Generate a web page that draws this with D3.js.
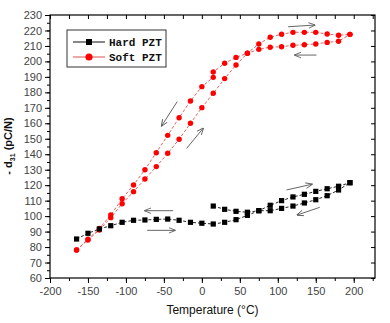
<!DOCTYPE html>
<html>
<head>
<meta charset="utf-8">
<script src="https://cdn.jsdelivr.net/npm/d3@7"></script>
<style>
  body { margin: 0; background: #fff; }
  text { font-family: Arial, "Liberation Sans", sans-serif; }
</style>
</head>
<body>
<svg width="390" height="323"></svg>
<script>
// Hard PZT, upper branch (heating, 15 -> 195 C)
var hardHeatT = [15, 30, 45, 60, 75, 90, 105, 120, 135, 150, 165, 180, 195];
var hardHeatD = [106.5, 104.4, 103.1, 102.5, 103.5, 107, 110, 112.4, 114.1, 116, 117.7, 119.3, 121.6];
// Hard PZT, lower branch (cooling, 195 -> -165 C)
var hardCoolT = [-165, -150, -135, -120, -105, -90, -75, -60, -45, -30, -15, 0, 15, 30, 45, 60, 75, 90, 105, 120, 135, 150, 165, 180, 195];
var hardCoolD = [85.2, 88.9, 91.7, 93.8, 96, 97.3, 97.5, 97.9, 98.1, 97.3, 96, 95.4, 94.9, 96, 97.7, 100.5, 103.5, 103.5, 105, 106.5, 108.5, 110.6, 113.2, 116.9, 121.6];
// Soft PZT, heating branch
var softHeatT = [-165, -150, -135, -120, -105, -90, -75, -60, -45, -30, -15, 0, 15, 30, 45, 60, 75, 90, 105, 120, 135, 150, 165, 180, 195];
var softHeatD = [78.1, 84.6, 91, 99, 108, 115.8, 124, 132, 140.6, 149.7, 160, 170.1, 179.4, 188.9, 197.7, 205.3, 211.3, 215.6, 217.6, 218.8, 218.8, 218.8, 217.7, 216.9, 217.5];
// Soft PZT, cooling branch
var softCoolT = [-165, -150, -135, -120, -105, -90, -75, -60, -45, -30, -15, 0, 15, 15, 30, 45, 60, 75, 90, 105, 120, 135, 150, 165, 180, 195];
var softCoolD = [78.1, 85, 92, 100.7, 111.2, 120.1, 130, 141, 152.2, 163.6, 174.4, 183.7, 189.7, 193.2, 198.8, 202.6, 205.3, 207.8, 209.2, 209.5, 210.4, 210.8, 211.3, 212.3, 213, 217.5];

var xTicks = [-200, -150, -100, -50, 0, 50, 100, 150, 200];
var yTicks = [60, 70, 80, 90, 100, 110, 120, 130, 140, 150, 160, 170, 180, 190, 200, 210, 220, 230];

// direction arrows [x1, y1, x2, y2] in data units, head at the second point
var arrows = [
  [113.6, 222.4, 148.7, 223.5],
  [150.9, 204.1, 122.4, 204.1],
  [-32.5, 174, -53, 158.3],
  [-20, 143.8, 1.7, 156.8],
  [-37.8, 103.5, -75, 103.5],
  [-72, 90.8, -35.5, 90.8],
  [111.4, 116.9, 145, 120.6],
  [155.3, 105.7, 125.4, 100.7]
];

var pLeft = 50, pRight = 375, pTop = 15, pBottom = 278;

var x = d3.scaleLinear().domain([-200, 228]).range([pLeft, pRight]);
var y = d3.scaleLinear().domain([60, 230]).range([pBottom, pTop]);

var svg = d3.select("svg");

svg.append("defs").append("marker")
  .attr("id", "head")
  .attr("viewBox", "0 0 10 10")
  .attr("refX", 9).attr("refY", 5)
  .attr("markerWidth", 7).attr("markerHeight", 7)
  .attr("markerUnits", "userSpaceOnUse")
  .attr("orient", "auto")
  .append("path")
  .attr("d", "M0,1 L10,5 L0,9")
  .attr("fill", "none")
  .attr("stroke", "#555")
  .attr("stroke-width", 1.2);

// frame
svg.append("rect")
  .attr("x", pLeft).attr("y", pTop)
  .attr("width", pRight - pLeft).attr("height", pBottom - pTop)
  .attr("fill", "none").attr("stroke", "#000").attr("stroke-width", 1.2);

// axes
var xMinor = d3.range(-200, 226, 25);
var yMinor = d3.range(60, 231, 5);
var fmt = function(d) { return String(d); };

function styleTicks(g) {
  g.select(".domain").remove();
  g.selectAll("line").attr("stroke", "#000");
  g.selectAll("text").attr("font-size", 11).attr("fill", "#444")
    .style("font-family", "Arial, 'Liberation Sans', sans-serif");
}

svg.append("g")
  .attr("transform", "translate(0," + pBottom + ")")
  .call(d3.axisBottom(x).tickValues(xMinor).tickSize(3).tickFormat(""))
  .call(styleTicks);
svg.append("g")
  .attr("transform", "translate(0," + pBottom + ")")
  .call(d3.axisBottom(x).tickValues(xTicks).tickSize(5).tickPadding(4).tickFormat(fmt))
  .call(styleTicks);
svg.append("g")
  .attr("transform", "translate(0," + pTop + ")")
  .call(d3.axisBottom(x).tickValues(xMinor).tickSize(4).tickFormat(""))
  .call(styleTicks);

svg.append("g")
  .attr("transform", "translate(" + pLeft + ",0)")
  .call(d3.axisLeft(y).tickValues(yMinor).tickSize(3).tickFormat(""))
  .call(styleTicks);
svg.append("g")
  .attr("transform", "translate(" + pLeft + ",0)")
  .call(d3.axisLeft(y).tickValues(yTicks).tickSize(5).tickPadding(3).tickFormat(fmt))
  .call(styleTicks);
svg.append("g")
  .attr("transform", "translate(" + pRight + ",0)")
  .call(d3.axisLeft(y).tickValues(yTicks).tickSize(4).tickFormat(""))
  .call(styleTicks);

// axis titles
svg.append("text")
  .attr("x", (pLeft + pRight) / 2).attr("y", 314)
  .attr("text-anchor", "middle")
  .attr("font-size", 12).attr("fill", "#111")
  .text("Temperature (°C)");

var yl = svg.append("text")
  .attr("transform", "translate(12,146) rotate(-90)")
  .attr("text-anchor", "middle")
  .attr("font-size", 11).attr("font-weight", "bold").attr("fill", "#111");
yl.append("tspan").text("- d");
yl.append("tspan").attr("font-size", 7).attr("dy", 3).text("31");
yl.append("tspan").attr("dy", -3).text(" (pC/N)");

// series
function pts(ts, ds) { return ts.map(function(t, i) { return [t, ds[i]]; }); }
var line = d3.line().x(function(d) { return x(d[0]); }).y(function(d) { return y(d[1]); });

var hard = [pts(hardHeatT, hardHeatD), pts(hardCoolT, hardCoolD)];
var soft = [pts(softHeatT, softHeatD), pts(softCoolT, softCoolD)];

soft.forEach(function(s) {
  svg.append("path").datum(s).attr("d", line)
    .attr("fill", "none").attr("stroke", "#d9534f").attr("stroke-width", 0.9)
    .attr("stroke-dasharray", "3,2");
});
hard.forEach(function(s) {
  svg.append("path").datum(s).attr("d", line)
    .attr("fill", "none").attr("stroke", "#111").attr("stroke-width", 0.9)
    .attr("stroke-dasharray", "3,2");
});

soft.forEach(function(s) {
  svg.append("g").selectAll("circle").data(s).enter().append("circle")
    .attr("cx", function(d) { return x(d[0]); })
    .attr("cy", function(d) { return y(d[1]); })
    .attr("r", 2.7).attr("fill", "#f00");
});
hard.forEach(function(s) {
  svg.append("g").selectAll("rect").data(s).enter().append("rect")
    .attr("x", function(d) { return x(d[0]) - 2.6; })
    .attr("y", function(d) { return y(d[1]) - 2.6; })
    .attr("width", 5.2).attr("height", 5.2).attr("fill", "#000");
});

// arrows
svg.append("g").selectAll("line").data(arrows).enter().append("line")
  .attr("x1", function(d) { return x(d[0]); })
  .attr("y1", function(d) { return y(d[1]); })
  .attr("x2", function(d) { return x(d[2]); })
  .attr("y2", function(d) { return y(d[3]); })
  .attr("stroke", "#555").attr("stroke-width", 0.9)
  .attr("marker-end", "url(#head)");

// legend
var lg = svg.append("g");
lg.append("rect").attr("x", 67).attr("y", 30).attr("width", 99).attr("height", 37)
  .attr("fill", "#fff").attr("stroke", "#333").attr("stroke-width", 1);
lg.append("line").attr("x1", 73).attr("x2", 105).attr("y1", 42).attr("y2", 42)
  .attr("stroke", "#111").attr("stroke-width", 1);
lg.append("rect").attr("x", 86).attr("y", 39).attr("width", 6).attr("height", 6).attr("fill", "#000");
lg.append("line").attr("x1", 73).attr("x2", 105).attr("y1", 57).attr("y2", 57)
  .attr("stroke", "#d9534f").attr("stroke-width", 1);
lg.append("circle").attr("cx", 89).attr("cy", 57).attr("r", 3.6).attr("fill", "#f00");
lg.append("text").attr("x", 109).attr("y", 46).text("Hard PZT")
  .style("font-family", "'Liberation Mono', 'DejaVu Sans Mono', monospace")
  .attr("font-weight", "bold").attr("font-size", 11).attr("fill", "#111");
lg.append("text").attr("x", 109).attr("y", 61).text("Soft PZT")
  .style("font-family", "'Liberation Mono', 'DejaVu Sans Mono', monospace")
  .attr("font-weight", "bold").attr("font-size", 11).attr("fill", "#111");
</script>
</body>
</html>
